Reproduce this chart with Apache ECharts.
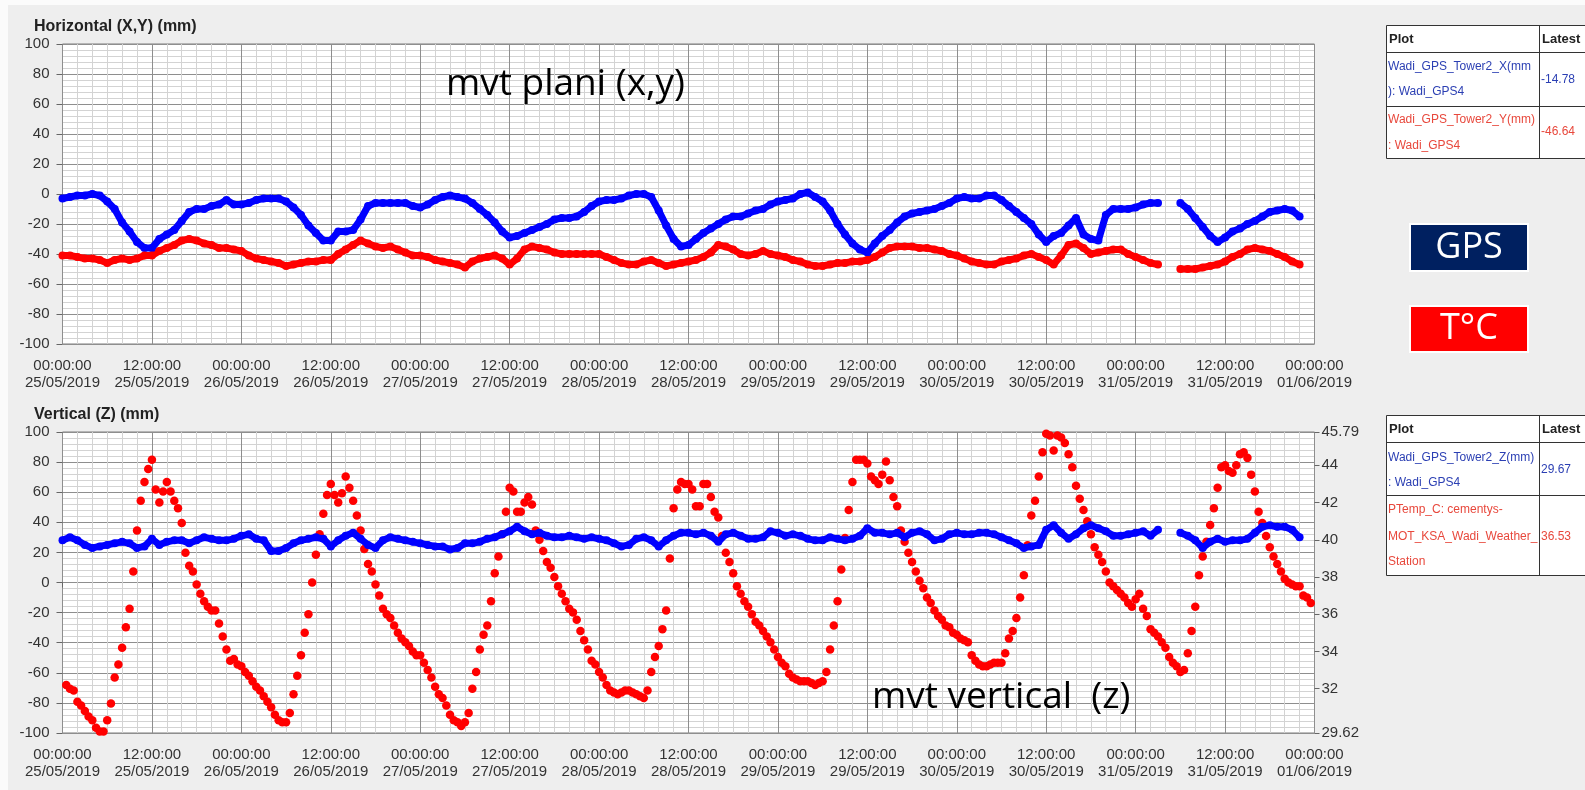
<!DOCTYPE html>
<html>
<head>
<meta charset="utf-8">
<title>Wadi GPS Tower2</title>
<script src="https://cdn.jsdelivr.net/npm/echarts@6/dist/echarts.min.js"></script>
<style>
html, body { margin: 0; padding: 0; background: #eeeeee; }
#main { width: 1585px; height: 790px; }
</style>
</head>
<body>
<div id="main"></div>
<script>
// x axis: hours since 25/05/2019 00:00:00, one label every 12 h
var xTickLabels = [
  '00:00:00\n25/05/2019', '12:00:00\n25/05/2019', '00:00:00\n26/05/2019', '12:00:00\n26/05/2019',
  '00:00:00\n27/05/2019', '12:00:00\n27/05/2019', '00:00:00\n28/05/2019', '12:00:00\n28/05/2019',
  '00:00:00\n29/05/2019', '12:00:00\n29/05/2019', '00:00:00\n30/05/2019', '12:00:00\n30/05/2019',
  '00:00:00\n31/05/2019', '12:00:00\n31/05/2019', '00:00:00\n01/06/2019'
];
var tempTicks = [29.62, 32, 34, 36, 38, 40, 42, 44, 45.79];

// GPS, one value per hour from 25/05 00:00 (mm)
var gpsX = [
  -3, -2, -1, -1, 0, -1, -5, -10, -19, -25, -32, -36, -36, -30, -27, -24, -18, -12, -10, -10, -8, -7, -4, -7,
  -7, -6, -4, -3, -3, -3, -5, -9, -14, -21, -26, -31, -31, -25, -25, -24, -17, -8, -6, -6, -6, -6, -6, -8,
  -9, -7, -4, -2, -1, -2, -3, -6, -10, -14, -19, -25, -29, -28, -26, -24, -22, -20, -17, -16, -16, -15, -12, -8,
  -5, -4, -4, -3, -1, 0, 0, -2, -11, -21, -30, -35, -34, -30, -26, -23, -20, -17, -15, -15, -13, -11, -10, -7,
  -5, -4, -3, 0, 1, -2, -5, -11, -20, -27, -33, -37, -39, -33, -28, -24, -19, -15, -13, -12, -11, -10, -8, -6,
  -3, -2, -3, -3, -1, -1, -4, -8, -12, -16, -20, -27, -32, -28, -26, -21, -16, -27, -30, -31, -14, -10, -10, -10,
  -9, -7, -6, -6, null, null, -6, -10, -16, -22, -28, -32, -29, -25, -23, -20, -18, -15, -12, -11, -10, -11, -15
];
var gpsY = [
  -41, -41, -42, -43, -43, -44, -46, -44, -43, -44, -43, -41, -41, -38, -36, -34, -31, -30, -31, -33, -34, -36, -36, -37,
  -38, -41, -43, -44, -45, -46, -48, -47, -46, -45, -45, -44, -44, -40, -37, -34, -31, -33, -35, -36, -35, -37, -39, -41,
  -41, -42, -44, -45, -46, -47, -49, -45, -43, -42, -41, -43, -47, -43, -37, -35, -36, -37, -39, -40, -40, -40, -40, -40,
  -40, -42, -44, -46, -47, -47, -45, -44, -46, -48, -47, -46, -45, -44, -42, -39, -34, -35, -37, -40, -41, -40, -38, -40,
  -41, -42, -44, -45, -47, -48, -48, -47, -46, -46, -45, -45, -44, -42, -39, -36, -35, -35, -35, -36, -36, -37, -38, -40,
  -41, -43, -45, -46, -47, -47, -45, -44, -43, -41, -40, -42, -44, -47, -41, -34, -33, -36, -40, -39, -38, -37, -37, -40,
  -42, -44, -46, -47, null, null, -50, -50, -50, -49, -48, -47, -45, -42, -40, -37, -36, -37, -38, -40, -42, -45, -47
];
var gpsZ = [
  28, 30, 28, 25, 23, 24, 25, 26, 27, 26, 23, 24, 29, 25, 27, 28, 28, 26, 28, 30, 29, 28, 28, 29,
  31, 32, 29, 28, 21, 21, 23, 26, 28, 29, 30, 29, 24, 28, 31, 33, 29, 25, 23, 28, 30, 29, 28, 27,
  26, 25, 24, 24, 22, 23, 26, 26, 27, 29, 30, 32, 34, 37, 34, 32, 33, 31, 30, 30, 31, 30, 29, 30,
  29, 28, 26, 24, 25, 29, 30, 28, 24, 28, 31, 33, 33, 32, 33, 31, 27, 32, 33, 31, 29, 29, 30, 34,
  33, 31, 32, 31, 29, 28, 28, 30, 29, 28, 29, 31, 36, 33, 33, 32, 33, 30, 33, 34, 32, 28, 29, 32,
  33, 32, 32, 33, 33, 32, 30, 28, 26, 23, 24, 25, 35, 38, 33, 29, 32, 36, 38, 36, 34, 31, 31, 32,
  33, 34, 31, 35, null, null, 33, 31, 28, 23, 27, 29, 27, 28, 28, 29, 33, 37, 38, 37, 37, 35, 30
];
// weather station temperature, every 30 min from 25/05 00:30 (deg C)
var tempC = [
  32.2, 32.0, 31.9, 31.3, 31.1, 30.8, 30.5, 30.3, 29.9, 29.7, 29.7,
  30.3, 31.2, 32.6, 33.3, 34.2, 35.3, 36.3, 38.3, 40.5, 42.1, 43.1, 43.8,
  44.3, 42.7, 42.0, 42.6, 43.1, 42.6, 42.1, 41.7, 40.9, 39.3, 38.6, 38.3,
  37.6, 37.1, 36.7, 36.4, 36.2, 36.2, 35.5, 34.8, 34.1, 33.5, 33.6, 33.3,
  33.2, 32.9, 32.7, 32.4, 32.1, 31.9, 31.6, 31.3, 31.0, 30.6, 30.3, 30.2,
  30.2, 30.7, 31.7, 32.7, 33.8, 35.0, 36.0, 37.7, 39.2, 40.3, 41.4, 42.4,
  43.0, 42.4, 42.0, 42.5, 43.4, 42.8, 42.1, 41.3, 40.5, 39.5, 38.7, 38.3,
  37.6, 37.0, 36.3, 36.0, 35.8, 35.4, 35.0, 34.7, 34.5, 34.3, 34.0, 33.8,
  33.8, 33.4, 33.0, 32.6, 32.1, 31.7, 31.5, 31.1, 30.6, 30.3, 30.2, 30.0,
  30.2, 30.7, 32.0, 32.9, 34.1, 34.9, 35.4, 36.7, 38.2, 39.1, 40.3, 41.5,
  42.8, 42.6, 41.5, 41.5, 42.0, 42.3, 41.9, 40.5, 40.0, 39.4, 38.8, 38.5,
  38.0, 37.5, 37.1, 36.7, 36.3, 36.1, 35.7, 35.1, 34.6, 34.1, 33.5, 33.3,
  32.9, 32.6, 32.2, 31.9, 31.8, 31.7, 31.8, 31.9, 31.9, 31.8, 31.7, 31.6,
  31.5, 31.9, 32.9, 33.7, 34.3, 35.2, 36.2, 39.0, 41.7, 42.7, 43.1, 43.0,
  43.0, 42.7, 41.8, 41.8, 43.0, 43.0, 42.3, 41.5, 41.2, 40.2, 39.3, 38.8,
  38.2, 37.5, 37.1, 36.7, 36.4, 36.0, 35.6, 35.4, 35.1, 34.8, 34.5, 34.1,
  33.7, 33.4, 33.2, 32.8, 32.6, 32.5, 32.4, 32.4, 32.4, 32.3, 32.2, 32.3,
  32.4, 32.9, 34.1, 35.4, 36.7, 38.4, 40.1, 41.6, 43.1, 44.3, 44.3, 44.3,
  44.1, 43.4, 43.2, 43.0, 43.5, 44.2, 43.2, 42.3, 41.8, 40.5, 39.9, 39.3,
  38.8, 38.3, 37.8, 37.4, 36.9, 36.6, 36.2, 35.9, 35.7, 35.4, 35.3, 35.0,
  34.9, 34.7, 34.6, 34.5, 33.8, 33.5, 33.3, 33.2, 33.2, 33.3, 33.4, 33.4,
  33.4, 33.9, 34.7, 35.1, 35.8, 36.9, 38.1, 39.7, 41.3, 42.1, 43.4, 44.7,
  45.7, 45.6, 44.8, 45.6, 45.5, 45.2, 44.6, 43.9, 42.9, 42.2, 41.6, 41.0,
  40.3, 39.6, 39.2, 38.8, 38.3, 37.7, 37.5, 37.3, 37.1, 36.9, 36.6, 36.4,
  36.8, 37.1, 36.3, 35.9, 35.2, 35.0, 34.8, 34.5, 34.2, 33.7, 33.4, 33.2,
  32.9, 33.0, 33.9, 35.1, 36.4, 38.1, 39.1, 39.9, 40.8, 41.7, 42.8, 43.9,
  44.0, 43.7, 43.6, 44.0, 44.6, 44.7, 44.4, 43.5, 42.6, 41.5, 40.9, 40.2,
  39.6, 39.1, 38.7, 38.3, 37.9, 37.7, 37.6, 37.5, 37.5, 37.0, 36.9, 36.6
];

var chart = echarts.init(document.getElementById('main'), null, { renderer: 'canvas' });

var LABEL_FONT = 'Liberation Sans';
var BLUE = '#0000ff';
var RED = '#ff0000';

function hourly(arr) {
  return arr.map(function (v, i) { return [i, v]; });
}
function halfHourly(arr) {
  return arr.map(function (v, i) { return [0.5 + i * 0.5, v]; });
}

function timeAxis(idx) {
  return {
    type: 'value', gridIndex: idx, min: 0, max: 168, interval: 12,
    axisLine: { show: false },
    axisTick: { show: true, length: 5, lineStyle: { color: '#666' } },
    minorTick: { show: false, splitNumber: 6 },
    axisLabel: {
      margin: 13, fontSize: 15, lineHeight: 17, color: '#333', fontFamily: LABEL_FONT,
      formatter: function (v) { return xTickLabels[Math.round(v / 12)]; }
    },
    splitLine: { show: true, lineStyle: { color: '#8e8e8e', width: 1 } },
    minorSplitLine: { show: true, lineStyle: { color: '#d3d3d3', width: 1 } }
  };
}

function mmAxis(idx) {
  return {
    type: 'value', gridIndex: idx, min: -100, max: 100, interval: 20,
    axisLine: { show: false },
    axisTick: { show: true, length: 6, lineStyle: { color: '#666' } },
    minorTick: { show: false, splitNumber: 5 },
    axisLabel: { margin: 13, fontSize: 15, color: '#333', fontFamily: LABEL_FONT },
    splitLine: { show: true, lineStyle: { color: '#8e8e8e', width: 1 } },
    minorSplitLine: { show: true, lineStyle: { color: '#d3d3d3', width: 1 } }
  };
}

function dotLine(name, data, color, xi, yi) {
  return {
    name: name, type: 'line', xAxisIndex: xi, yAxisIndex: yi,
    data: data, connectNulls: false,
    symbol: 'circle', symbolSize: 8, showSymbol: true,
    itemStyle: { color: color },
    lineStyle: { color: color, width: 7 }
  };
}

// little table helpers
function txt(x, y, s, color, font) {
  return {
    type: 'text', z: 100, silent: true,
    style: { text: s, x: x, y: y, fill: color, font: font, align: 'left', verticalAlign: 'middle',
      textAlign: 'left', textVerticalAlign: 'middle' }
  };
}
function box(x, y, w, h, fill, stroke, lw) {
  return { type: 'rect', z: 90, silent: true, shape: { x: x, y: y, width: w, height: h },
    style: { fill: fill, stroke: stroke, lineWidth: lw } };
}
function hline(x1, x2, y) {
  return { type: 'line', z: 95, silent: true, shape: { x1: x1, y1: y, x2: x2, y2: y },
    style: { stroke: '#333', lineWidth: 1 } };
}
function vline(x, y1, y2) {
  return { type: 'line', z: 95, silent: true, shape: { x1: x, y1: y1, x2: x, y2: y2 },
    style: { stroke: '#333', lineWidth: 1 } };
}

var TF = '12px "Liberation Sans"';
var TFB = 'bold 13px "Liberation Sans"';
var TBLUE = '#2b3fb3';
var TRED = '#e8483c';

var graphics = [
  box(0, 0, 1585, 5, '#fbfbfb', null, 0),
  box(0, 0, 8, 790, '#fbfbfb', null, 0),
  // top table
  box(1386.5, 25.5, 210, 133, '#ffffff', '#333', 1),
  hline(1386.5, 1600, 52.5), hline(1386.5, 1600, 106.5), vline(1539.5, 25.5, 158.5),
  txt(1389, 39, 'Plot', '#222', TFB), txt(1542, 39, 'Latest', '#222', TFB),
  txt(1388, 67, 'Wadi_GPS_Tower2_X(mm', TBLUE, TF), txt(1388, 92, '): Wadi_GPS4', TBLUE, TF),
  txt(1541, 80, '-14.78', TBLUE, TF),
  txt(1388, 120, 'Wadi_GPS_Tower2_Y(mm)', TRED, TF), txt(1388, 146, ': Wadi_GPS4', TRED, TF),
  txt(1541, 132, '-46.64', TRED, TF),
  // bottom table
  box(1386.5, 415.5, 210, 160, '#ffffff', '#333', 1),
  hline(1386.5, 1600, 442.5), hline(1386.5, 1600, 495.5), vline(1539.5, 415.5, 575.5),
  txt(1389, 429, 'Plot', '#222', TFB), txt(1542, 429, 'Latest', '#222', TFB),
  txt(1388, 458, 'Wadi_GPS_Tower2_Z(mm)', TBLUE, TF), txt(1388, 483, ': Wadi_GPS4', TBLUE, TF),
  txt(1541, 470, '29.67', TBLUE, TF),
  txt(1388, 510, 'PTemp_C: cementys-', TRED, TF), txt(1388, 537, 'MOT_KSA_Wadi_Weather_', TRED, TF),
  txt(1388, 562, 'Station', TRED, TF), txt(1541, 537, '36.53', TRED, TF),
  // GPS / T°C tags
  box(1410, 224, 118, 47, '#002060', '#ffffff', 2),
  {
    type: 'text', z: 100, silent: true,
    style: { text: 'GPS', x: 1469, y: 248, fill: '#fff', font: '36px "Open Sans"',
      align: 'center', verticalAlign: 'middle', textAlign: 'center', textVerticalAlign: 'middle' }
  },
  box(1410, 306, 118, 46, '#ff0000', '#ffffff', 2),
  {
    type: 'text', z: 100, silent: true,
    style: { text: 'T°C', x: 1469, y: 329, fill: '#fff', font: '36px "Open Sans"',
      align: 'center', verticalAlign: 'middle', textAlign: 'center', textVerticalAlign: 'middle' }
  },
  // annotations over the plots
  txt(446, 84, 'mvt plani (x,y)', '#000', '37px "Open Sans"'),
  txt(872, 697, 'mvt vertical  (z)', '#000', '37px "Open Sans"')
];

var option = {
  animation: false,
  backgroundColor: '#eeeeee',
  title: [
    { text: 'Horizontal (X,Y) (mm)', left: 34, top: 19, padding: 0,
      textStyle: { fontSize: 16, fontWeight: 'bold', color: '#222', fontFamily: LABEL_FONT } },
    { text: 'Vertical (Z) (mm)', left: 34, top: 407, padding: 0,
      textStyle: { fontSize: 16, fontWeight: 'bold', color: '#222', fontFamily: LABEL_FONT } }
  ],
  grid: [
    { left: 62.5, top: 44, width: 1252, height: 300, show: true,
      backgroundColor: '#ffffff', borderColor: '#7d7d7d', borderWidth: 1 },
    { left: 62.5, top: 432, width: 1252, height: 301, show: true,
      backgroundColor: '#ffffff', borderColor: '#7d7d7d', borderWidth: 1 }
  ],
  xAxis: [timeAxis(0), timeAxis(1)],
  yAxis: [
    mmAxis(0),
    mmAxis(1),
    {
      type: 'value', gridIndex: 1, position: 'right', min: 29.62, max: 45.79,
      axisLine: { show: false },
      axisTick: { show: true, length: 5, customValues: tempTicks, lineStyle: { color: '#666' } },
      axisLabel: {
        margin: 7, fontSize: 15, color: '#333', fontFamily: LABEL_FONT, customValues: tempTicks,
        formatter: function (v) {
          return Math.abs(v - Math.round(v)) < 1e-6 ? String(Math.round(v)) : v.toFixed(2);
        }
      },
      splitLine: { show: false }
    }
  ],
  series: [
    dotLine('Wadi_GPS_Tower2_X(mm): Wadi_GPS4', hourly(gpsX), BLUE, 0, 0),
    dotLine('Wadi_GPS_Tower2_Y(mm): Wadi_GPS4', hourly(gpsY), RED, 0, 0),
    dotLine('Wadi_GPS_Tower2_Z(mm): Wadi_GPS4', hourly(gpsZ), BLUE, 1, 1),
    {
      name: 'PTemp_C: cementys-MOT_KSA_Wadi_Weather_Station', type: 'scatter',
      xAxisIndex: 1, yAxisIndex: 2, data: halfHourly(tempC),
      symbol: 'circle', symbolSize: 8.5, itemStyle: { color: RED, opacity: 1 }
    }
  ],
  graphic: graphics
};

chart.setOption(option);
</script>
</body>
</html>
